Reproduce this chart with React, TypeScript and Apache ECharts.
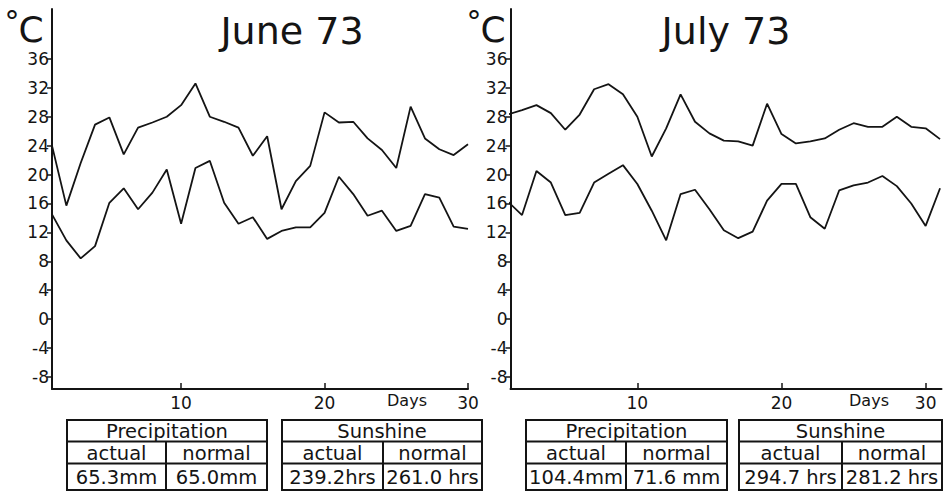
import React, { useEffect, useRef } from "react";
import * as echarts from "echarts";

// ---- Data ----
const JUNE_MAX = [24.0, 15.7, 21.6, 26.9, 27.9, 22.8, 26.5, 27.2, 28.0, 29.6, 32.6, 28.0, 27.3, 26.5, 22.6, 25.3, 15.2, 19.1, 21.2, 28.6, 27.2, 27.3, 25.0, 23.4, 20.9, 29.4, 25.0, 23.5, 22.7, 24.2];
const JUNE_MIN = [14.5, 10.9, 8.4, 10.1, 16.1, 18.1, 15.2, 17.5, 20.7, 13.2, 20.9, 21.9, 16.1, 13.2, 14.1, 11.1, 12.2, 12.7, 12.7, 14.7, 19.7, 17.3, 14.3, 15.0, 12.2, 12.9, 17.3, 16.8, 12.8, 12.5];
const JULY_MAX = [28.3, 28.9, 29.6, 28.5, 26.2, 28.3, 31.8, 32.5, 31.1, 28.0, 22.5, 26.4, 31.1, 27.3, 25.7, 24.7, 24.6, 24.0, 29.8, 25.6, 24.3, 24.6, 25.0, 26.2, 27.1, 26.6, 26.6, 28.0, 26.6, 26.4, 24.9];
const JULY_MIN = [16.3, 14.4, 20.5, 18.9, 14.4, 14.7, 18.9, 20.1, 21.3, 18.7, 15.0, 10.9, 17.3, 17.9, 15.2, 12.3, 11.2, 12.1, 16.4, 18.7, 18.7, 14.1, 12.5, 17.8, 18.5, 18.9, 19.8, 18.4, 16.0, 12.9, 18.1];

const Y_TICKS = [-8, -4, 0, 4, 8, 12, 16, 20, 24, 28, 32, 36];
const X_TICKS = [10, 20, 30];
const TITLES = ["June 73", "July 73"];
const TABLE_HEADS = ["Precipitation", "Sunshine"];
const SUB_HEADS = ["actual", "normal"];
const JUNE_TABLE = [["65.3mm", "65.0mm"], ["239.2hrs", "261.0 hrs"]];
const JULY_TABLE = [["104.4mm", "71.6 mm"], ["294.7 hrs", "281.2 hrs"]];

const FONT = "DejaVu Sans";
const INK = "#141414";

const toPairs = (arr: number[]) => arr.map((v, i) => [i + 1, v]);

function App() {
  const ref = useRef<HTMLDivElement>(null);
  useEffect(() => {
    document.body.style.margin = "0";
    const chart = echarts.init(ref.current!, undefined, { renderer: "svg" });

    const grids = [
      { left: 52, top: 9, width: 416, height: 380 },
      { left: 510.5, top: 9, width: 431, height: 380 },
    ];
    const xRanges = [
      [1, 30],
      [1.2, 31.1],
    ];

    const xAxis = grids.map((_, i) => ({
      type: "value",
      gridIndex: i,
      min: xRanges[i][0],
      max: xRanges[i][1],
      axisLine: { show: true, onZero: false, lineStyle: { color: INK, width: 2 } },
      axisTick: { show: true, inside: true, length: 6, customValues: X_TICKS, lineStyle: { color: INK, width: 1.5 } },
      axisLabel: { show: true, customValues: X_TICKS, margin: 5, fontSize: 17, fontFamily: FONT, color: INK },
      splitLine: { show: false },
    }));
    const yAxis = grids.map((_, i) => ({
      type: "value",
      gridIndex: i,
      min: -9.66,
      max: 42.9,
      axisLine: { show: true, onZero: false, lineStyle: { color: INK, width: 2 } },
      axisTick: { show: true, inside: false, length: 5, customValues: Y_TICKS, lineStyle: { color: INK, width: 1.5 } },
      axisLabel: { show: true, customValues: Y_TICKS, margin: 3, fontSize: 17, fontFamily: FONT, color: INK },
      splitLine: { show: false },
    }));

    const lineSeries = (data: number[], idx: number) => ({
      type: "line",
      xAxisIndex: idx,
      yAxisIndex: idx,
      data: toPairs(data),
      symbol: "none",
      lineStyle: { color: INK, width: 1.8 },
      clip: true,
    });

    const graphics: any[] = [];
    const text = (t: string, x: number, y: number, size: number, align = "center") => ({
      type: "text",
      x,
      y,
      style: { text: t, fontSize: size, fontFamily: FONT, fill: INK, align, verticalAlign: "middle" },
    });

    // °C labels and titles
    const degX = [0, 462];
    degX.forEach((dx) => {
      graphics.push(text("°", dx + 12, 21, 30));
      graphics.push(text("C", dx + 31, 29, 36));
    });
    graphics.push(text(TITLES[0], 292, 31, 38));
    graphics.push(text(TITLES[1], 726, 31, 38));
    graphics.push(text("Days", 407, 400, 16));
    graphics.push(text("Days", 869, 400, 16));

    // Tables
    const tables = [
      { x0: 67, xm: 166, x1: 267, head: TABLE_HEADS[0], vals: JUNE_TABLE[0] },
      { x0: 282, xm: 383, x1: 482, head: TABLE_HEADS[1], vals: JUNE_TABLE[1] },
      { x0: 526, xm: 626, x1: 727, head: TABLE_HEADS[0], vals: JULY_TABLE[0] },
      { x0: 739, xm: 842, x1: 942, head: TABLE_HEADS[1], vals: JULY_TABLE[1] },
    ];
    const y0 = 420, y1 = 441.5, y2 = 463.5, y3 = 490;
    const ls = { stroke: INK, lineWidth: 2 };
    const fs = 19.5;
    tables.forEach((t) => {
      graphics.push({ type: "rect", shape: { x: t.x0, y: y0, width: t.x1 - t.x0, height: y3 - y0 }, style: { fill: "none", ...ls } });
      graphics.push({ type: "line", shape: { x1: t.x0, y1: y1, x2: t.x1, y2: y1 }, style: ls });
      graphics.push({ type: "line", shape: { x1: t.x0, y1: y2, x2: t.x1, y2: y2 }, style: ls });
      graphics.push({ type: "line", shape: { x1: t.xm, y1: y1, x2: t.xm, y2: y3 }, style: ls });
      graphics.push(text(t.head, (t.x0 + t.x1) / 2, (y0 + y1) / 2 + 1, fs));
      graphics.push(text(SUB_HEADS[0], (t.x0 + t.xm) / 2, (y1 + y2) / 2 + 1, fs));
      graphics.push(text(SUB_HEADS[1], (t.xm + t.x1) / 2, (y1 + y2) / 2 + 1, fs));
      graphics.push(text(t.vals[0], (t.x0 + t.xm) / 2, (y2 + y3) / 2 + 1, fs));
      graphics.push(text(t.vals[1], (t.xm + t.x1) / 2, (y2 + y3) / 2 + 1, fs));
    });

    chart.setOption({
      animation: false,
      backgroundColor: "#ffffff",
      grid: grids,
      xAxis,
      yAxis,
      series: [
        lineSeries(JUNE_MAX, 0),
        lineSeries(JUNE_MIN, 0),
        lineSeries(JULY_MAX, 1),
        lineSeries(JULY_MIN, 1),
      ],
      graphic: graphics,
    });
    return () => chart.dispose();
  }, []);
  return <div ref={ref} style={{ position: "absolute", left: 0, top: 0, width: 944, height: 495 }} />;
}

export default App;
